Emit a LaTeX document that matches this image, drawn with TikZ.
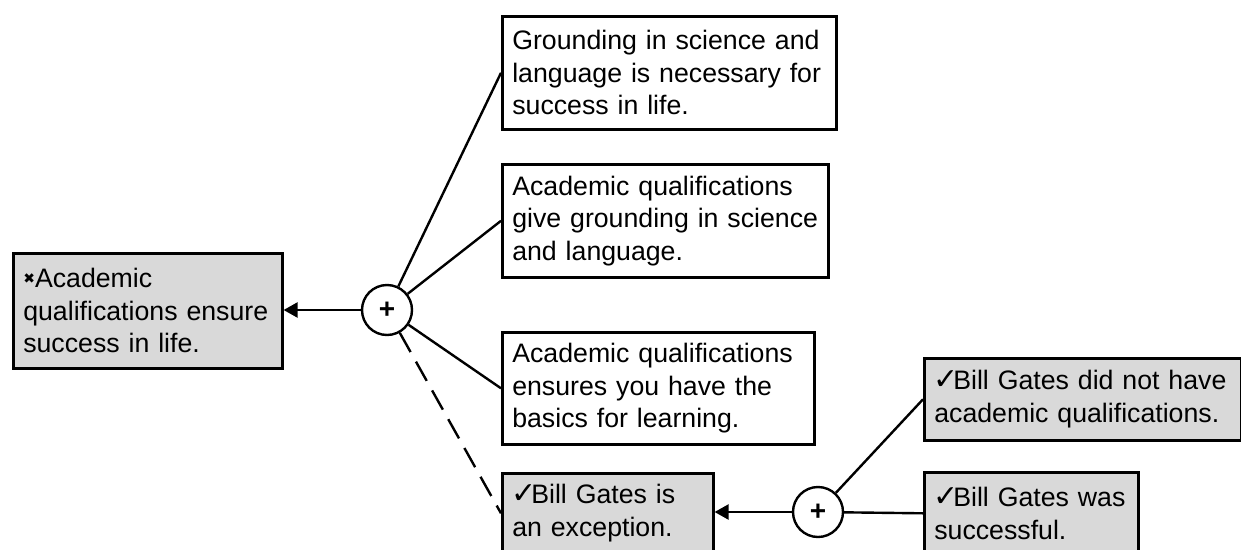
\documentclass[tikz,border=0pt]{standalone}
\usepackage{fontspec}
\setmainfont{Liberation Sans}
\newfontfamily\dejavu{DejaVu Sans}
\usetikzlibrary{arrows.meta}
\definecolor{boxgray}{HTML}{D9D9D9}
\newcommand{\chk}{\makebox[19pt][l]{\hspace{-1pt}\dejavu\fontsize{30}{30}\selectfont ✓}}
\newcommand{\crs}{{\dejavu\fontsize{14}{14}\selectfont\raisebox{4pt}{✖}}}
\tikzset{
  basebox/.style={draw=black, line width=2.6pt, anchor=north west, align=left,
    inner xsep=10pt, inner ysep=0pt,
    font=\fontsize{26.7}{32.5}\selectfont},
  claim/.style={basebox, fill=white},
  grey/.style={basebox, fill=boxgray},
  plus/.style={draw=black, line width=2.4pt, circle, fill=white, minimum size=50pt, inner sep=0pt,
    font=\bfseries\fontsize{28}{28}\selectfont},
  link/.style={line width=2.4pt},
  dlink/.style={line width=2.4pt, dash pattern=on 22pt off 11pt},
  arr/.style={line width=2.4pt, -{Triangle[length=14pt,width=15pt]}}
}
\begin{document}
\begin{tikzpicture}[x=1pt,y=-1pt]
\useasboundingbox (0,0) rectangle (1241,549);
\clip (0,0) rectangle (1241,549);
\node[grey, minimum width=269pt, minimum height=115pt, text width=249pt] (L) at (12,252)
  {\crs Academic\\qualifications ensure\\success in life.};
\node[claim, minimum width=334pt, minimum height=113pt, text width=314pt] (A) at (501,15)
  {Grounding in science and\\language is necessary for\\success in life.};
\node[claim, minimum width=326pt, minimum height=113pt, text width=306pt] (B) at (501,163)
  {Academic qualifications\\give grounding in science\\and language.};
\node[claim, minimum width=312pt, minimum height=112pt, text width=292pt] (C) at (501,331)
  {Academic qualifications\\ensures you have the\\basics for learning.};
\node[grey, minimum width=211pt, minimum height=80pt, text width=191pt] (D) at (501,472)
  {\chk Bill Gates is\\an exception.};
\node[grey, minimum width=317pt, minimum height=82pt, text width=297pt] (E) at (923,357)
  {\chk Bill Gates did not have\\academic qualifications.};
\node[grey, minimum width=214pt, minimum height=82pt, text width=194pt] (F) at (923,471)
  {\chk Bill Gates was\\successful.};
\node[plus] (P1) at (387,310) {+};
\node[plus] (P2) at (818,512) {+};
\draw[arr] (P1) -- (P1 -| L.east);
\draw[link] (P1) -- (A.west);
\draw[link] (P1) -- (B.west);
\draw[link] (P1) -- (C.west);
\draw[dlink] (P1) -- (D.west);
\draw[arr] (P2) -- (P2 -| D.east);
\draw[link] (P2) -- (E.west);
\draw[link] (P2) -- (F.west);
\end{tikzpicture}
\end{document}
